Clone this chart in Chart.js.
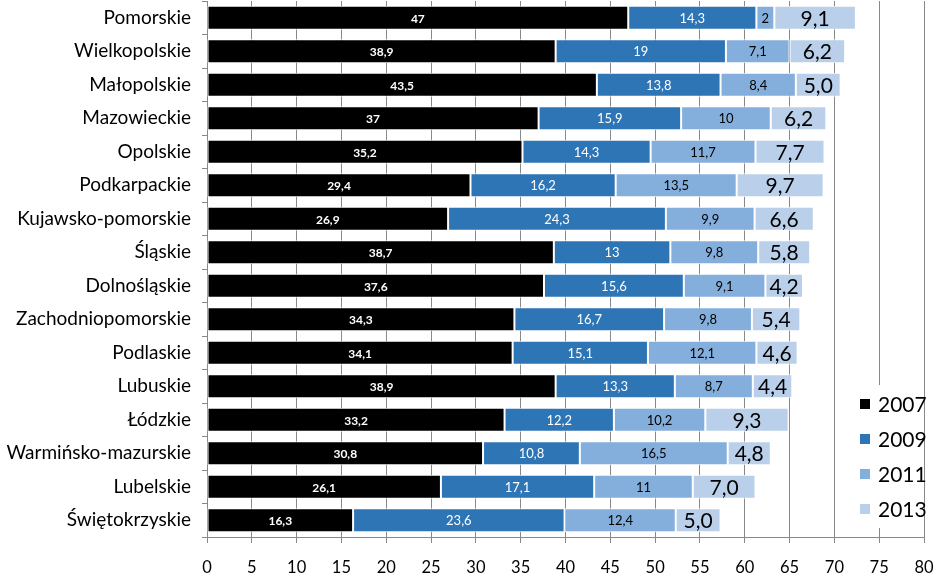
<!DOCTYPE html>
<html>
<head>
<meta charset="utf-8">
<script src="https://cdn.jsdelivr.net/npm/chart.js@4/dist/chart.umd.min.js"></script>
<style>
  body { margin: 0; background: #fff; }
</style>
</head>
<body>
<canvas id="myChart" width="934" height="574"></canvas>
<script>
const regions = ['Pomorskie', 'Wielkopolskie', 'Małopolskie', 'Mazowieckie', 'Opolskie', 'Podkarpackie',
  'Kujawsko-pomorskie', 'Śląskie', 'Dolnośląskie', 'Zachodniopomorskie', 'Podlaskie', 'Lubuskie',
  'Łódzkie', 'Warmińsko-mazurskie', 'Lubelskie', 'Świętokrzyskie'];
const years = ['2007', '2009', '2011', '2013'];
const v2007 = [47, 38.9, 43.5, 37, 35.2, 29.4, 26.9, 38.7, 37.6, 34.3, 34.1, 38.9, 33.2, 30.8, 26.1, 16.3];
const v2009 = [14.3, 19, 13.8, 15.9, 14.3, 16.2, 24.3, 13, 15.6, 16.7, 15.1, 13.3, 12.2, 10.8, 17.1, 23.6];
const v2011 = [2, 7.1, 8.4, 10, 11.7, 13.5, 9.9, 9.8, 9.1, 9.8, 12.1, 8.7, 10.2, 16.5, 11, 12.4];
const v2013 = [9.1, 6.2, 5.0, 6.2, 7.7, 9.7, 6.6, 5.8, 4.2, 5.4, 4.6, 4.4, 9.3, 4.8, 7.0, 5.0];
const colors = ['#000000', '#2E75B6', '#84AEDC', '#BAD0EA'];

const FONT = 'Lato, "Open Sans", sans-serif';

// label styles per series
const labelStyle = [
  { color: '#fff', size: 12, weight: 'bold', digits: null },
  { color: '#fff', size: 13, weight: 'normal', digits: null },
  { color: '#000', size: 13, weight: 'normal', digits: null },
  { color: '#000', size: 21, weight: 'normal', digits: 1 }
];

const valueLabels = {
  id: 'valueLabels',
  afterDatasetsDraw(chart) {
    const ctx = chart.ctx;
    ctx.save();
    ctx.textAlign = 'center';
    ctx.textBaseline = 'middle';
    chart.data.datasets.forEach((ds, i) => {
      const st = labelStyle[i];
      ctx.fillStyle = st.color;
      ctx.font = st.weight + ' ' + st.size + 'px ' + FONT;
      chart.getDatasetMeta(i).data.forEach((bar, j) => {
        const v = ds.data[j];
        const txt = (st.digits ? v.toFixed(st.digits) : String(v)).replace('.', ',');
        ctx.fillText(txt, (bar.x + bar.base) / 2, bar.y + 1);
      });
    });
    ctx.restore();
  }
};

const boxLegend = {
  id: 'boxLegend',
  afterDatasetsDraw(chart) {
    const ctx = chart.ctx;
    const a = chart.chartArea;
    const left = a.right - 79, top = a.bottom - 152;
    ctx.save();
    ctx.fillStyle = '#fff';
    ctx.fillRect(left, top, 79, 143);
    ctx.font = '21px ' + FONT;
    ctx.textBaseline = 'middle';
    ctx.textAlign = 'left';
    chart.data.datasets.forEach((ds, i) => {
      const y = top + 19 + i * 35;
      ctx.fillStyle = ds.backgroundColor;
      ctx.fillRect(left + 15, y - 5, 10, 10);
      ctx.fillStyle = '#000';
      ctx.fillText(ds.label, left + 33, y + 1);
    });
    ctx.restore();
  }
};

// drop the automatic edge padding so the plot fills the canvas like the original
function noEdgePadding(scale) {
  scale.paddingTop = 0;
  scale.paddingBottom = 0;
  scale.paddingLeft = 0;
  scale.paddingRight = 0;
}

const ctx = document.getElementById('myChart').getContext('2d');
new Chart(ctx, {
  type: 'bar',
  data: {
    labels: regions,
    datasets: [v2007, v2009, v2011, v2013].map((d, i) => ({
      label: years[i],
      data: d,
      backgroundColor: colors[i],
      borderColor: '#fff',
      borderWidth: 1,
      borderSkipped: false,
      categoryPercentage: 1,
      barPercentage: 0.72
    }))
  },
  options: {
    indexAxis: 'y',
    responsive: false,
    animation: false,
    layout: { padding: { left: 0, right: 10, top: 1, bottom: 0 } },
    plugins: {
      legend: { display: false },
      tooltip: { enabled: false }
    },
    scales: {
      x: {
        stacked: true,
        min: 0,
        max: 80,
        afterFit: (s) => { noEdgePadding(s); s.height = 37; },
        ticks: { stepSize: 5, color: '#000', font: { family: FONT, size: 16.5 }, padding: 15 },
        grid: { color: '#888', lineWidth: 1, tickLength: 6 },
        border: { color: '#888' }
      },
      y: {
        stacked: true,
        afterFit: (s) => { noEdgePadding(s); s.width = 207; },
        ticks: { color: '#000', font: { family: FONT, size: 19 }, padding: 11 },
        grid: { drawOnChartArea: false, offset: true, tickLength: 5, color: '#888' },
        border: { color: '#888' }
      }
    }
  },
  plugins: [valueLabels, boxLegend]
});
</script>
</body>
</html>
